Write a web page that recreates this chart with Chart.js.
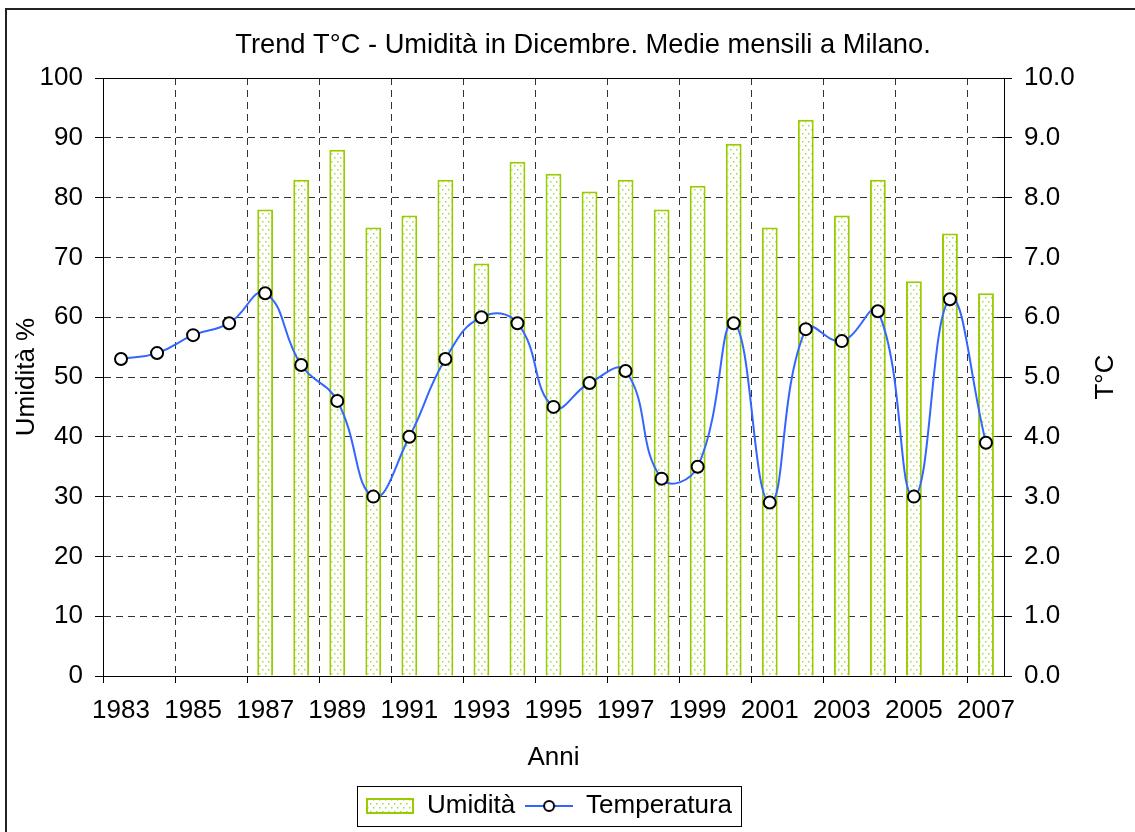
<!DOCTYPE html>
<html>
<head>
<meta charset="utf-8">
<title>Trend T°C - Umidità in Dicembre</title>
<script src="https://cdn.jsdelivr.net/npm/chart.js@4.4.1/dist/chart.umd.min.js"></script>
<style>
  body { margin: 0; background: #fff; }
  #box { position: relative; width: 1135px; height: 832px; }
</style>
</head>
<body>
<div id="box"><canvas id="trend"></canvas></div>
<script>
const titolo = 'Trend T°C - Umidità in Dicembre. Medie mensili a Milano.';
const anni = ['1983', '1984', '1985', '1986', '1987', '1988', '1989', '1990', '1991', '1992',
  '1993', '1994', '1995', '1996', '1997', '1998', '1999', '2000', '2001', '2002',
  '2003', '2004', '2005', '2006', '2007'];
// umidità % (nessun dato prima del 1987)
const umidita = [null, null, null, null, 78, 83, 88, 75, 77, 83,
  69, 86, 84, 81, 83, 78, 82, 89, 75, 93,
  77, 83, 66, 74, 64];
// temperatura media °C
const temperatura = [5.3, 5.4, 5.7, 5.9, 6.4, 5.2, 4.6, 3.0, 4.0, 5.3,
  6.0, 5.9, 4.5, 4.9, 5.1, 3.3, 3.5, 5.9, 2.9, 5.8,
  5.6, 6.1, 3.0, 6.3, 3.9];

const FONT = "'Liberation Sans', Arial, sans-serif";
Chart.defaults.font.family = FONT;
Chart.defaults.color = '#000';

const verde = '#99cc00';
const blu = '#3366ff';

// riempimento a puntini delle barre
function puntini() {
  const c = document.createElement('canvas');
  c.width = 6; c.height = 8;
  const g = c.getContext('2d');
  g.fillStyle = '#fff';
  g.fillRect(0, 0, 6, 8);
  g.fillStyle = '#aad64a';
  g.fillRect(1, 1, 1.5, 1.5);
  g.fillRect(4, 5, 1.5, 1.5);
  return g.createPattern(c, 'repeat');
}
const pattern = puntini();

// simboli della legenda
function simboloBarra() {
  const c = document.createElement('canvas');
  c.width = 48; c.height = 16;
  const g = c.getContext('2d');
  g.fillStyle = pattern;
  g.fillRect(1, 1, 46, 14);
  g.strokeStyle = verde;
  g.lineWidth = 2;
  g.strokeRect(1, 1, 46, 14);
  return c;
}
function simboloLinea() {
  const c = document.createElement('canvas');
  c.width = 48; c.height = 16;
  const g = c.getContext('2d');
  g.strokeStyle = blu;
  g.lineWidth = 2;
  g.beginPath(); g.moveTo(0, 8); g.lineTo(48, 8); g.stroke();
  g.fillStyle = '#fff';
  g.strokeStyle = '#000';
  g.beginPath(); g.arc(24, 8, 5, 0, Math.PI * 2); g.fill(); g.stroke();
  return c;
}
const icone = [simboloBarra(), simboloLinea()];

const al = (p) => Math.round(p - 0.5) + 0.5;

const cornice = {
  id: 'cornice',
  beforeDatasetsDraw(chart) {
    const { ctx, chartArea: a } = chart;
    ctx.save();
    ctx.strokeStyle = '#000';
    ctx.lineWidth = 1;
    ctx.strokeRect(al(a.left), al(a.top), al(a.right) - al(a.left), al(a.bottom) - al(a.top));
    ctx.restore();
  },
  afterDraw(chart) {
    const { ctx, chartArea: a } = chart;
    ctx.save();
    ctx.lineWidth = 2;
    ctx.strokeStyle = '#222';
    ctx.strokeRect(6, 9, 1140, 840);

    ctx.fillStyle = '#000';
    ctx.font = '27.3px ' + FONT;
    ctx.textAlign = 'center';
    ctx.textBaseline = 'alphabetic';
    ctx.fillText(titolo, 583, 53);

    // tacche interne dell'asse destro
    const s = chart.scales.y1;
    ctx.lineWidth = 1;
    ctx.strokeStyle = '#000';
    s.ticks.forEach(t => {
      const y = al(s.getPixelForValue(t.value));
      ctx.beginPath(); ctx.moveTo(s.left - 7, y); ctx.lineTo(s.left, y); ctx.stroke();
    });

    // cornice della legenda
    const hb = chart.legend.legendHitBoxes;
    if (hb && hb.length) {
      const x0 = hb[0].left - 8;
      const x1 = hb[hb.length - 1].left + hb[hb.length - 1].width + 10;
      const y0 = hb[0].top - 7;
      const y1 = hb[0].top + hb[0].height + 7;
      ctx.strokeRect(al(x0), al(y0), Math.round(x1 - x0), Math.round(y1 - y0));
    }

    // titolo asse destro, letto dal basso verso l'alto
    ctx.font = '26px ' + FONT;
    ctx.translate(1113, (a.top + a.bottom) / 2);
    ctx.rotate(-Math.PI / 2);
    ctx.fillText('T°C', 0, 0);
    ctx.restore();
  }
};

new Chart(document.getElementById('trend'), {
  data: {
    labels: anni,
    datasets: [
      {
        type: 'bar',
        label: 'Umidità',
        data: umidita,
        backgroundColor: pattern,
        borderColor: verde,
        borderWidth: 2,
        categoryPercentage: 1,
        barPercentage: 0.44,
        yAxisID: 'y',
        order: 2
      },
      {
        type: 'line',
        label: 'Temperatura',
        data: temperatura,
        borderColor: blu,
        borderWidth: 2,
        tension: 0.45,
        pointRadius: 6,
        pointBorderWidth: 2,
        pointBorderColor: '#000',
        pointBackgroundColor: '#fff',
        yAxisID: 'y1',
        order: 1
      }
    ]
  },
  options: {
    responsive: true,
    maintainAspectRatio: false,
    animation: false,
    layout: { padding: { left: 4, right: 41, top: 78, bottom: 3 } },
    plugins: {
      title: { display: false },
      tooltip: { enabled: false },
      legend: {
        position: 'bottom',
        labels: {
          font: { size: 26 },
          color: '#000',
          padding: 10,
          usePointStyle: true,
          pointStyleWidth: 48,
          sort: (a, b) => a.datasetIndex - b.datasetIndex,
          generateLabels(chart) {
            return chart.data.datasets.map((ds, i) => ({
              text: ds.label,
              datasetIndex: i,
              pointStyle: icone[i],
              fillStyle: 'transparent',
              strokeStyle: 'transparent',
              lineWidth: 0,
              fontColor: '#000',
              hidden: false
            }));
          }
        }
      }
    },
    scales: {
      x: {
        type: 'category',
        offset: true,
        grid: {
          offset: true,
          color: (c) => (c.index % 2 === 0 && c.index > 0) ? '#333' : 'transparent',
          tickColor: (c) => c.index % 2 === 0 ? '#000' : 'transparent',
          tickLength: 7
        },
        border: { color: '#000', dash: [7, 5] },
        ticks: {
          autoSkip: false,
          maxRotation: 0,
          padding: 12,
          font: { size: 26 },
          callback(v, i) { return i % 2 === 0 ? this.getLabelForValue(v) : ''; }
        },
        title: { display: true, text: 'Anni', font: { size: 26 }, padding: { top: 0, bottom: 10 } },
        afterFit(s) { s.height = 107; }
      },
      y: {
        position: 'left',
        min: 0,
        max: 100,
        grid: { color: '#333', tickColor: '#000', tickLength: 8 },
        border: { color: '#000', dash: [7, 5] },
        ticks: { stepSize: 10, padding: 12, font: { size: 26 } },
        title: { display: true, text: 'Umidità %', font: { size: 26 }, padding: { top: 7, bottom: 0 } },
        afterFit(s) { s.width = 99; }
      },
      y1: {
        position: 'right',
        min: 0,
        max: 10,
        grid: { drawOnChartArea: false, tickColor: '#000', tickLength: 8 },
        border: { color: '#000' },
        ticks: { stepSize: 1, padding: 12, font: { size: 26 }, callback: (v) => v.toFixed(1) },
        afterFit(s) { s.width = 90; }
      }
    }
  },
  plugins: [cornice]
});
</script>
</body>
</html>
